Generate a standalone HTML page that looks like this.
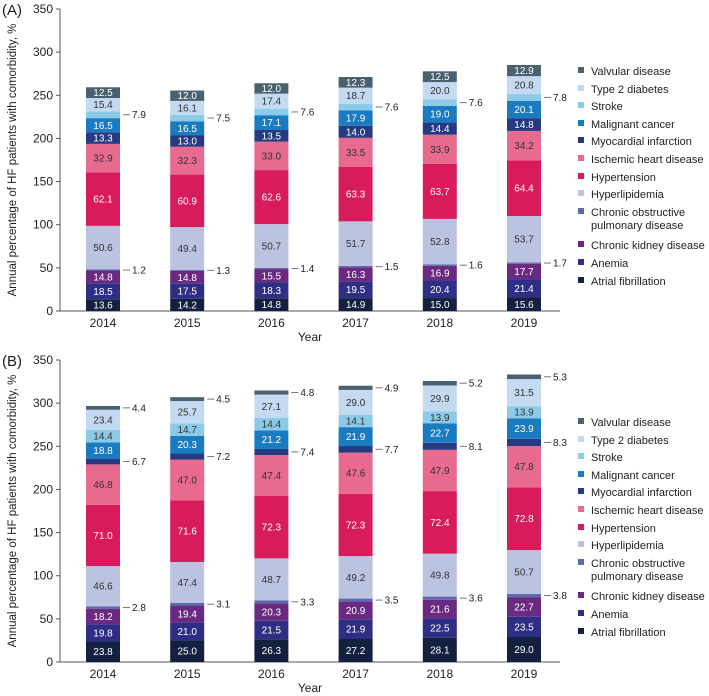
<!DOCTYPE html>
<html><head><meta charset="utf-8"><style>
body{margin:0;background:#fff;}
svg{display:block;font-family:"Liberation Sans",Arial,sans-serif;}
</style></head><body>
<svg id="c" width="709" height="696"></svg>
<script>
const years=["2014","2015","2016","2017","2018","2019"];
const seriesNames=["Atrial fibrillation","Anemia","Chronic kidney disease","Chronic obstructive pulmonary disease","Hyperlipidemia","Hypertension","Ischemic heart disease","Myocardial infarction","Malignant cancer","Stroke","Type 2 diabetes","Valvular disease"];
const colors=["#14203f","#2e2e85","#6b2a82","#5a6aaa","#bcc3e0","#d81b5a","#e86a8e","#263a82","#1a7bc0","#8ccbe8","#c3daf0","#4a6170"];
const textColors=["#fff","#fff","#fff","#fff","#333","#fff","#333","#fff","#fff","#333","#333","#fff"];
const yTicks=[0,50,100,150,200,250,300,350];
const aAF=[13.6,14.2,14.8,14.9,15.0,15.6];
const aAnemia=[18.5,17.5,18.3,19.5,20.4,21.4];
const aCKD=[14.8,14.8,15.5,16.3,16.9,17.7];
const aCOPD=[1.2,1.3,1.4,1.5,1.6,1.7];
const aHyperlip=[50.6,49.4,50.7,51.7,52.8,53.7];
const aHTN=[62.1,60.9,62.6,63.3,63.7,64.4];
const aIHD=[32.9,32.3,33.0,33.5,33.9,34.2];
const aMI=[13.3,13.0,13.5,14.0,14.4,14.8];
const aMalig=[16.5,16.5,17.1,17.9,19.0,20.1];
const aStroke=[7.9,7.5,7.6,7.6,7.6,7.8];
const aT2D=[15.4,16.1,17.4,18.7,20.0,20.8];
const aValv=[12.5,12.0,12.0,12.3,12.5,12.9];
const bAF=[23.8,25.0,26.3,27.2,28.1,29.0];
const bAnemia=[19.8,21.0,21.5,21.9,22.5,23.5];
const bCKD=[18.2,19.4,20.3,20.9,21.6,22.7];
const bCOPD=[2.8,3.1,3.3,3.5,3.6,3.8];
const bHyperlip=[46.6,47.4,48.7,49.2,49.8,50.7];
const bHTN=[71.0,71.6,72.3,72.3,72.4,72.8];
const bIHD=[46.8,47.0,47.4,47.6,47.9,47.8];
const bMI=[6.7,7.2,7.4,7.7,8.1,8.3];
const bMalig=[18.8,20.3,21.2,21.9,22.7,23.9];
const bStroke=[14.4,14.7,14.4,14.1,13.9,13.9];
const bT2D=[23.4,25.7,27.1,29.0,29.9,31.5];
const bValv=[4.4,4.5,4.8,4.9,5.2,5.3];
const panelA=[aAF,aAnemia,aCKD,aCOPD,aHyperlip,aHTN,aIHD,aMI,aMalig,aStroke,aT2D,aValv];
const panelB=[bAF,bAnemia,bCKD,bCOPD,bHyperlip,bHTN,bIHD,bMI,bMalig,bStroke,bT2D,bValv];
const calloutA=[3,9];
const calloutB=[3,7,11];

const svg=document.getElementById('c');
const NS="http://www.w3.org/2000/svg";
function mk(t,a,txt){const e=document.createElementNS(NS,t);for(const k in a)e.setAttribute(k,a[k]);if(txt!==undefined)e.textContent=txt;svg.appendChild(e);return e;}

function drawPanel(data,callouts,y0,letter,tag){
  const x0=60,xEnd=560,hPx=302;
  const y=v=>y0-v/350*hPx;
  const xc=i=>103+i*84.2;
  const bw=34;
  let e=mk('text',{x:2,y:y0-296,'font-size':15,fill:'#222'},'('+letter+')');
  
  
  e=mk('line',{x1:x0,y1:y0,x2:x0,y2:y(350),stroke:'#555','stroke-width':1});
  
  
  e=mk('line',{x1:x0,y1:y0,x2:xEnd,y2:y0,stroke:'#555','stroke-width':1});
  
  
  yTicks.forEach(t=>{
    let l=mk('line',{x1:x0-4,y1:y(t),x2:x0,y2:y(t),stroke:'#555'});
    
    
    let tx=mk('text',{x:x0-7,y:y(t)+4,'font-size':12,'text-anchor':'end',fill:'#222'},t);
    
    
  });
  years.forEach((yr,i)=>{
    let tx=mk('text',{x:xc(i),y:y0+16,'font-size':12,'text-anchor':'middle',fill:'#222'},yr);
    
    
    let cum=0;
    data.forEach((ser,s)=>{
      const v=ser[i];
      const top=y(cum+v),bot=y(cum);
      let r=mk('rect',{x:xc(i)-bw/2,y:top,width:bw,height:bot-top,fill:colors[s]});
      
      
      if(callouts.includes(s)){
        const my=(top+bot)/2;
        let l=mk('line',{x1:xc(i)+bw/2+3,y1:my,x2:xc(i)+bw/2+10,y2:my,stroke:'#777'});
        
        
        let t=mk('text',{x:xc(i)+bw/2+12,y:my+3.5,'font-size':10,fill:'#222'},v.toFixed(1));
        
        
      } else {
        let t=mk('text',{x:xc(i),y:(top+bot)/2+3.5,'font-size':10,'text-anchor':'middle',fill:textColors[s]},v.toFixed(1));
        
        
      }
      cum+=v;
    });
  });
  e=mk('text',{x:310,y:y0+30,'font-size':12,'text-anchor':'middle',fill:'#222'},'Year');
  
  
  const cy=y0-151;
  e=mk('text',{x:16,y:cy,'font-size':11.5,'text-anchor':'middle',fill:'#222',transform:'rotate(-90 16 '+cy+')'},'Annual percentage of HF patients with comorbidity, %');
  
  
  const ly=[y0-240,y0-222,y0-205,y0-187,y0-170,y0-152,y0-134,y0-117,y0-99,y0-66,y0-48,y0-30];
  for(let k=0;k<12;k++){
    const s=11-k;
    let r=mk('rect',{x:578,y:ly[k]-4,width:6,height:6,fill:colors[s]});
    
    
    if(s===3){
      let t=mk('text',{x:591,y:ly[k]+4,'font-size':11,fill:'#222'},'Chronic obstructive');
      
      
      let t2=mk('text',{x:591,y:ly[k]+17,'font-size':11,fill:'#222'},'pulmonary disease');
      
      
    } else {
      let t=mk('text',{x:591,y:ly[k]+4,'font-size':11,fill:'#222'},seriesNames[s]);
      
      
    }
  }
}
drawPanel(panelA,calloutA,311,'A','a');
drawPanel(panelB,calloutB,662,'B','b');
</script>
</body></html>
